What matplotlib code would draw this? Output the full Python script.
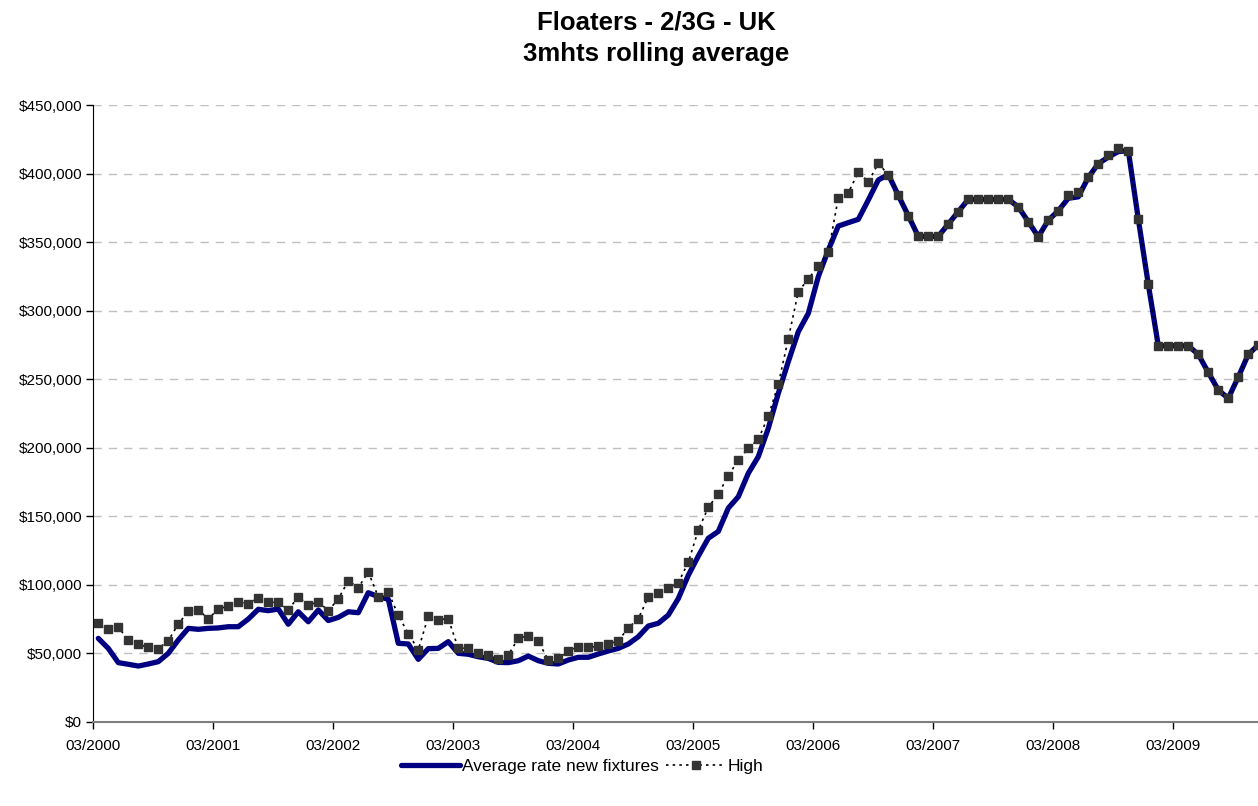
import numpy as np
import matplotlib
matplotlib.use("Agg")
import matplotlib.pyplot as plt

plt.rcParams['font.family'] = ['Liberation Sans', 'DejaVu Sans']

# monthly values from 03/2000, in $000
high = [
    72, 67.6, 69, 60, 56.6, 54.5, 53.5, 59.3, 71.5, 80.7,
    81.9, 75.1, 82.6, 84.4, 87.7, 86, 90.7, 87.3, 87.3, 81.7,
    91.4, 85.1, 87.7, 81.2, 89.7, 103, 98, 109.4, 91.2, 94.8,
    77.8, 64.4, 52.7, 77.1, 74.6, 75.3, 53.7, 54, 50.6, 48.6,
    46, 48.9, 61, 63, 58.8, 45.2, 46.4, 51.8, 54.9, 54.5,
    55.2, 56.6, 59.3, 68.6, 75.3, 91.2, 94.3, 97.5, 101.6, 116.5,
    140, 156.6, 166.3, 179.6, 191.1, 199.6, 206.2, 223, 246.3, 279.5,
    313.8, 323.1, 332.6, 342.5, 382.4, 386, 400.9, 394, 407.4, 399.2,
    384.1, 369.3, 354.2, 354.2, 354.2, 363.2, 372.2, 381.2, 381.2, 381.2,
    381.2, 381.2, 375.7, 364.9, 353.9, 365.9, 372.9, 384.6, 386.3, 397.2,
    407.2, 413.7, 418.4, 416.7, 366.8, 319.2, 274.4, 274.4, 274.4, 274.4,
    268.1, 255, 242.1, 236.1, 251.6, 268.1, 275,
]
avg_rate = [
    61, 53.7, 43.3, 42.1, 40.8, 42.3, 44, 50.1, 59.8, 68.3,
    67.6, 68.3, 68.6, 69.5, 69.5, 75.1, 82.2, 81.2, 82.4, 71.3,
    80.4, 73.1, 81.7, 74, 76.3, 80.4, 79.7, 94.3, 91.4, 89.5,
    57.4, 56.9, 45.7, 53.5, 53.7, 58.6, 50.1, 49.4, 47.6, 46.4,
    43.5, 43.3, 44.7, 48.1, 44.7, 42.8, 42.3, 45.2, 47.2, 47.2,
    49.6, 51.8, 53.7, 56.9, 62.2, 70, 72, 78, 90, 107,
    121, 134, 139, 156, 164.3, 181.4, 193.5, 214.2, 239.7, 262.8,
    284.6, 298, 324.8, 344.2, 361.7, 364.2, 366.6, 380.7, 395.3, 399.4,
    384.1, 369.3, 354.2, 354.2, 354.2, 363.2, 372.2, 381.2, 381.2, 381.2,
    381.2, 381.2, 375.7, 364.9, 353.9, 365.9, 372.9, 382, 383, 397.2,
    407.2, 412, 416, 416.7, 366.8, 319.2, 274.4, 274.4, 274.4, 274.4,
    268.1, 255, 242.1, 236.1, 251.6, 268.1, 275,
]
year_labels = ["03/2000", "03/2001", "03/2002", "03/2003", "03/2004",
               "03/2005", "03/2006", "03/2007", "03/2008", "03/2009"]

high = np.array(high) * 1000
avg_rate = np.array(avg_rate) * 1000
months = np.arange(len(high)) + 0.5

fig = plt.figure(figsize=(12.58, 8.06), dpi=100)
ax = fig.add_axes([93.3 / 1258, 84 / 806, (1258 - 93.3) / 1258, 617 / 806])

ax.plot(months, avg_rate, color="#000080", lw=3.8, solid_joinstyle="round",
        solid_capstyle="round", label="Average rate new fixtures", zorder=3)
ax.plot(months, high, color="black", lw=1.2, ls=(0, (1.5, 2.5)), marker="s",
        markersize=6, markerfacecolor="#333333", markeredgecolor="#333333",
        label="High", zorder=4)

ax.set_xlim(0, 116.47)
ax.set_ylim(0, 450000)
ax.set_xticks(np.arange(0, 120, 12))
ax.set_xticklabels(year_labels)
ax.set_yticks(np.arange(0, 450001, 50000))
ax.set_yticklabels(["$" + format(v, ",") for v in range(0, 450001, 50000)])
ax.tick_params(labelsize=11, direction="out", length=5, width=1)
ax.tick_params(axis="x", pad=7)
ax.tick_params(axis="y", pad=3)

ax.grid(axis="y", color="#c0c0c0", ls=(0, (6, 5)), lw=1)
ax.set_axisbelow(True)
for s in ["top", "right"]:
    ax.spines[s].set_visible(False)
ax.spines["left"].set_color("black")
ax.spines["bottom"].set_color("#808080")
ax.spines["bottom"].set_linewidth(1.5)

fig.text(656 / 1258, 1 - 22 / 806, "Floaters - 2/3G - UK",
         ha="center", va="center", fontsize=18.5, fontweight="bold")
fig.text(656 / 1258, 1 - 54 / 806, "3mhts rolling average",
         ha="center", va="center", fontsize=18.5, fontweight="bold")

fig.legend(loc="center", bbox_to_anchor=(582 / 1258, 1 - 766 / 806), ncol=2,
           frameon=False, fontsize=12.5, handlelength=3.4, handletextpad=0.1,
           columnspacing=0.45)

fig.savefig("out.png", dpi=100)
